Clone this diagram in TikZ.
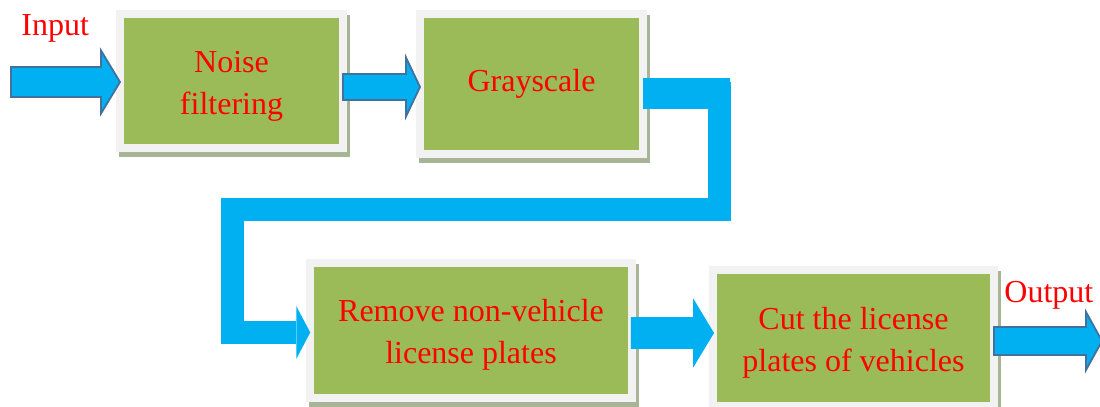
\documentclass[tikz,border=0pt]{standalone}
\usepackage{fontspec}
\setmainfont{Liberation Serif}
\usetikzlibrary{arrows.meta,positioning,calc,shadows}
\definecolor{col1}{RGB}{155,187,89}
\definecolor{col2}{RGB}{242,242,242}
\definecolor{col3}{RGB}{168,180,150}
\definecolor{col4}{RGB}{0,176,240}
\definecolor{col5}{RGB}{65,113,156}
\newcommand{\topstrut}{\rule{0pt}{15.5pt}}
\tikzstyle{stage}=[draw=col2, line width=4pt, fill=col1, text=red, align=center, inner sep=0pt, outer sep=0pt, general shadow={draw=col3, fill=col3, line width=4pt, shadow xshift=1.5pt, shadow yshift=-2.5pt}]
\tikzstyle{lbl}=[text=red, inner sep=0pt]
\tikzstyle{pipe}=[draw=col4, line width=11.5pt, line join=miter]
\tikzset{barrow/.style n args={3}{draw=col5, fill=col4, line width=0.9pt, line join=miter,
  to path={($(\tikztostart)+(0,#1)$) -- ($(\tikztotarget |- \tikztostart)+(-#3,#1)$)
    -- ($(\tikztotarget |- \tikztostart)+(-#3,#2)$) -- (\tikztotarget |- \tikztostart)
    -- ($(\tikztotarget |- \tikztostart)+(-#3,-#2)$) -- ($(\tikztotarget |- \tikztostart)+(-#3,-#1)$)
    -- ($(\tikztostart)+(0,-#1)$) -- cycle}}}

\begin{document}
\begin{tikzpicture}[x=0.5pt,y=-0.5pt,font=\fontsize{16}{21}\selectfont]
    \useasboundingbox (0,0) rectangle (1100,407);
    \node [stage, minimum width=111.5pt, minimum height=67pt] (nf) at (231.5,81) {\topstrut Noise\\filtering};
    \node [stage, minimum width=111.5pt, minimum height=70pt] (gs) [right of=nf, node distance=150pt, yshift=-1.5pt] {Grayscale};
    \node [stage, minimum width=160.75pt, minimum height=67.5pt] (rm) at (471,330.5) {\topstrut Remove non-vehicle\\license plates};
    \node [stage, minimum width=140.5pt, minimum height=68pt] (cp) [right of=rm, node distance=191.25pt, yshift=-3.75pt] {\topstrut Cut the license\\plates of vehicles};
    \coordinate (in) at (11,82);
    \coordinate (out) at (1102,341);
    \node [lbl, anchor=base west] (inlbl) at (21,35) {Input};
    \node [lbl, anchor=base west] (outlbl) at (1004,302) {Output};
    % block arrows
    \path
    (in) edge [barrow={7.5pt}{15.75pt}{9.5pt}] (nf.west)
    ([yshift=-3pt]nf.east) edge [barrow={6.5pt}{14.75pt}{7pt}] (gs.west)
    ([yshift=-1.25pt]rm.east) edge [barrow={7.5pt}{15.75pt}{9.5pt}, draw=col4] (cp.west)
    ([yshift=-1.5pt]cp.east) edge [barrow={7pt}{14.5pt}{8pt}] (out);
    % return pipe
    \draw [pipe, -{Triangle[length=7pt, width=26.5pt, line width=0pt]}] ([yshift=-4.75pt]gs.east) -| (719,209.5) -| (232,332.5) -- ([yshift=-1pt]rm.west);
    \draw [pipe, line width=15.5pt] ([yshift=-4.75pt]gs.east) -- ++(87,0);
\end{tikzpicture}
\end{document}
